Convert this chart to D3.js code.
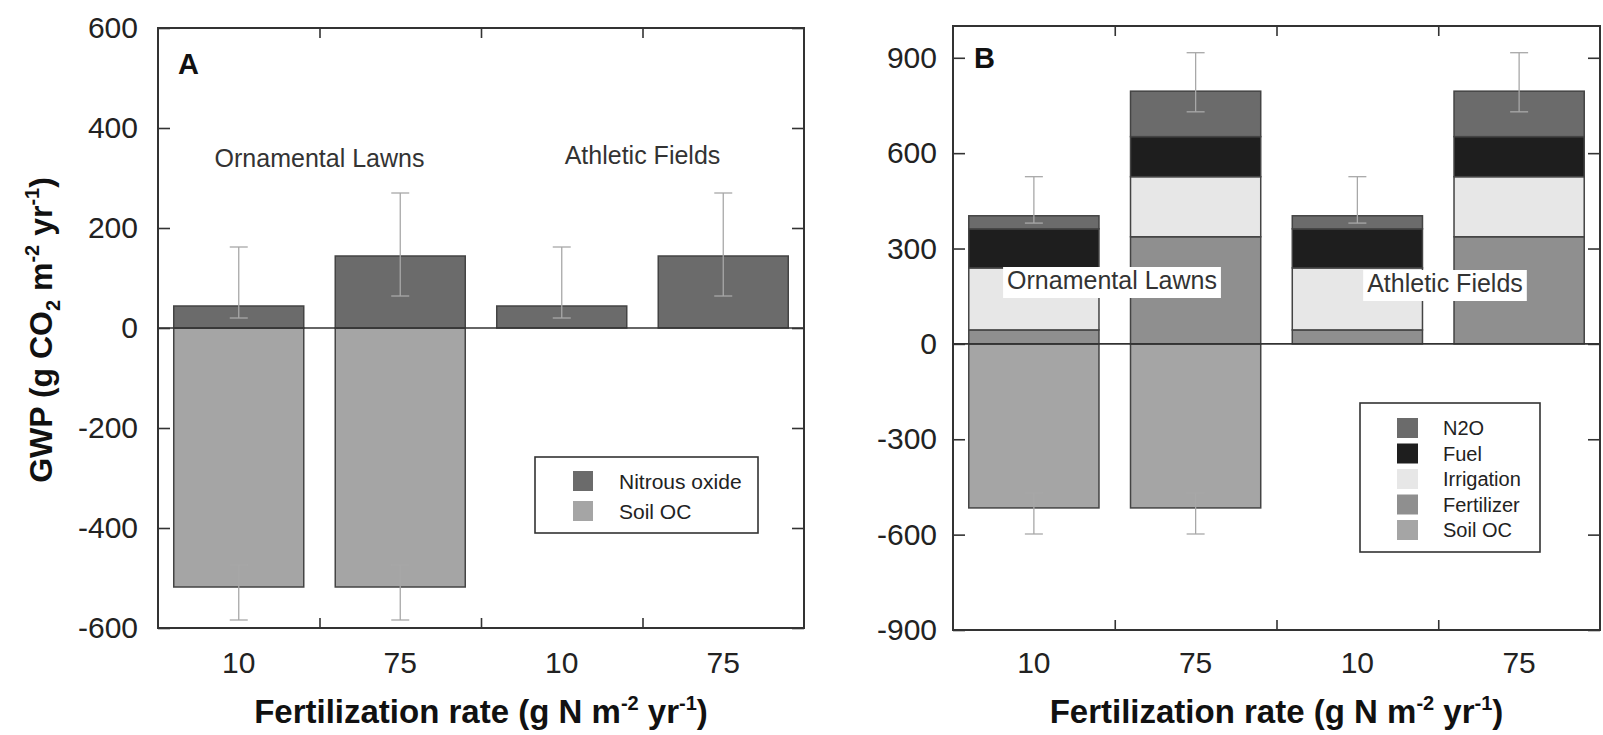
<!DOCTYPE html>
<html><head><meta charset="utf-8">
<script src="https://cdn.jsdelivr.net/npm/d3@7"></script>
<style>
body{margin:0;background:#fff;}
svg{display:block;font-family:"Liberation Sans",Arial,sans-serif;}
</style></head><body>
<svg id="chart" width="1603" height="735"></svg>
<script>
// ---------- DATA ----------
const categories = ["OL-10","OL-75","AF-10","AF-75"];
const rateLabels = ["10","75","10","75"];
const groupLabels = ["Ornamental Lawns","Athletic Fields"];

// Panel A
const n2oA = [44,144,44,144];
const n2oALow = [20,64,20,64];
const n2oAHigh = [162,270,162,270];
const soilA = [-518,-518,null,null];
const soilALow = [-584,-584,null,null];
const soilAHigh = [-474,-474,null,null];
const yTicksA = [-600,-400,-200,0,200,400,600];
const legendA = ["Nitrous oxide","Soil OC"];

// Panel B (stack from 0 upward: Fertilizer, Irrigation, Fuel, N2O)
const fertilizerB = [44,337,44,337];
const irrigationB = [195,189,195,189];
const fuelB = [123,126,123,126];
const n2oB = [41,143,41,143];
const totalBLow = [380,730,380,730];
const totalBHigh = [526,916,526,916];
const soilB = [-516,-516,null,null];
const soilBLow = [-598,-598,null,null];
const soilBHigh = [-469,-469,null,null];
const yTicksB = [-900,-600,-300,0,300,600,900];
const legendB = ["N2O","Fuel","Irrigation","Fertilizer","Soil OC"];

// ---------- STYLE ----------
const col = {n2o:"#6b6b6b", fuel:"#1e1e1e", irrigation:"#e7e7e7", fertilizer:"#8f8f8f", soil:"#a5a5a5"};
const barStroke = "#444";
const axisCol = "#333";
const textCol = "#222";

const svg = d3.select("#chart");

function panel(opts){
  const {x0,x1,y0,y1,domain} = opts;
  const g = svg.append("g");
  const x = d3.scaleBand().domain(categories).range([x0,x1]).paddingInner(0.195).paddingOuter(0.0975);
  const xl = d3.scaleLinear().domain([0,4]).range([x0,x1]);
  const y = d3.scaleLinear().domain(domain).range([y1,y0]);
  return {g,x,xl,y,...opts};
}

function drawBars(P, segs){
  segs.forEach(s=>{
    P.g.append("g").selectAll("rect").data(categories.map((c,i)=>({c,lo:s.lo[i],hi:s.hi[i]})).filter(d=>d.lo!=null&&d.hi!=null))
      .join("rect")
      .attr("x",d=>P.x(d.c)).attr("width",P.x.bandwidth())
      .attr("y",d=>P.y(Math.max(d.lo,d.hi))).attr("height",d=>Math.abs(P.y(d.lo)-P.y(d.hi)))
      .attr("fill",s.color).attr("stroke",barStroke).attr("stroke-width",1.5);
  });
}

function drawErr(P, low, high){
  const data = categories.map((c,i)=>({c,lo:low[i],hi:high[i]})).filter(d=>d.lo!=null);
  const eg = P.g.append("g").attr("stroke","#a8a8a8").attr("stroke-width",1.3);
  eg.selectAll("line.v").data(data).join("line")
    .attr("x1",d=>P.x(d.c)+P.x.bandwidth()/2).attr("x2",d=>P.x(d.c)+P.x.bandwidth()/2)
    .attr("y1",d=>P.y(d.lo)).attr("y2",d=>P.y(d.hi));
  ["lo","hi"].forEach(k=>{
    eg.selectAll("line."+k).data(data).join("line")
      .attr("x1",d=>P.x(d.c)+P.x.bandwidth()/2-9).attr("x2",d=>P.x(d.c)+P.x.bandwidth()/2+9)
      .attr("y1",d=>P.y(d[k])).attr("y2",d=>P.y(d[k]));
  });
}

function drawZero(P){
  P.g.append("line").attr("x1",P.x0).attr("x2",P.x1).attr("y1",P.y(0)).attr("y2",P.y(0))
    .attr("stroke",axisCol).attr("stroke-width",1.6);
}

function drawAxes(P){
  const g = P.g;
  const styleAx = sel=>{sel.select(".domain").remove(); sel.selectAll("line").attr("stroke",axisCol).attr("stroke-width",1.6);
    sel.selectAll("text").attr("fill",textCol).style("font-size","30px").style("font-family",'"Liberation Sans",Arial,sans-serif');};
  g.append("g").attr("transform",`translate(${P.x0},0)`)
    .call(d3.axisLeft(P.y).tickValues(P.ticks).tickSize(-12).tickPadding(P.labelPad).tickFormat(d=>String(d))).call(styleAx);
  g.append("g").attr("transform",`translate(${P.x1},0)`)
    .call(d3.axisRight(P.y).tickValues(P.ticks).tickSize(-12).tickFormat("")).call(styleAx);
  g.append("g").attr("transform",`translate(0,${P.y1})`)
    .call(d3.axisBottom(P.xl).tickValues([1,2,3]).tickSize(-10).tickFormat("")).call(styleAx);
  g.append("g").attr("transform",`translate(0,${P.y0})`)
    .call(d3.axisTop(P.xl).tickValues([1,2,3]).tickSize(-10).tickFormat("")).call(styleAx);
  g.append("g").attr("transform",`translate(0,${P.y1})`)
    .call(d3.axisBottom(P.x).tickSize(0).tickPadding(P.xLabPad).tickFormat((d,i)=>rateLabels[i])).call(styleAx);
  g.append("rect").attr("x",P.x0).attr("y",P.y0).attr("width",P.x1-P.x0).attr("height",P.y1-P.y0)
    .attr("fill","none").attr("stroke",axisCol).attr("stroke-width",2);
  const t = g.append("text").attr("x",(P.x0+P.x1)/2).attr("y",723).attr("text-anchor","middle")
    .attr("fill","#111").style("font-size","33px").style("font-weight","bold");
  t.append("tspan").text("Fertilization rate (g N m");
  t.append("tspan").attr("dy",-13).style("font-size","20px").text("-2");
  t.append("tspan").attr("dy",13).text(" yr");
  t.append("tspan").attr("dy",-13).style("font-size","20px").text("-1");
  t.append("tspan").attr("dy",13).text(")");
}

function groupLabel(P, text, cx, baseline, size, box){
  const t = P.g.append("text").attr("x",cx).attr("y",baseline).attr("text-anchor","middle")
    .attr("fill","#333").style("font-size",size+"px").text(text);
  if(box){
    const bb = t.node().getBBox();
    P.g.insert("rect",()=>t.node()).attr("x",bb.x-4).attr("y",bb.y+1).attr("width",bb.width+8).attr("height",bb.height+3).attr("fill","#fff");
  }
}

function legend(P, items, colors, bx, by, bw, bh, sx, sw, sh, rowY, tx, fs){
  const g = P.g.append("g");
  g.append("rect").attr("x",bx).attr("y",by).attr("width",bw).attr("height",bh).attr("fill","#fff").attr("stroke",axisCol).attr("stroke-width",1.6);
  items.forEach((it,i)=>{
    g.append("rect").attr("x",sx).attr("y",rowY[i]-sh/2).attr("width",sw).attr("height",sh).attr("fill",colors[i]);
    g.append("text").attr("x",tx).attr("y",rowY[i]+fs*0.36).attr("fill","#222").style("font-size",fs+"px").text(it);
  });
}

// ---------- PANEL A ----------
const A = panel({x0:158,x1:804,y0:28,y1:628,domain:[-600,600],ticks:yTicksA,labelPad:20,xLabPad:24});
drawBars(A,[
  {lo:soilA.map(v=>v==null?null:0), hi:soilA, color:col.soil},
  {lo:n2oA.map(()=>0), hi:n2oA, color:col.n2o}
]);
drawZero(A);
drawErr(A,n2oALow,n2oAHigh);
drawErr(A,soilALow,soilAHigh);
groupLabel(A,groupLabels[0],(A.xl(0)+A.xl(2))/2,167,25,false);
groupLabel(A,groupLabels[1],(A.xl(2)+A.xl(4))/2,164,25,false);
legend(A,legendA,[col.n2o,col.soil],535,457,223,76,573,20,20,[481,511],619,21);
drawAxes(A);
A.g.append("text").attr("x",178).attr("y",74).attr("fill","#111").style("font-size","29px").style("font-weight","bold").text("A");
const yt = svg.append("text").attr("transform","translate(52,330) rotate(-90)").attr("text-anchor","middle")
  .attr("fill","#111").style("font-size","32px").style("font-weight","bold");
yt.append("tspan").text("GWP (g CO");
yt.append("tspan").attr("dy",8).style("font-size","20px").text("2");
yt.append("tspan").attr("dy",-8).text(" m");
yt.append("tspan").attr("dy",-13).style("font-size","20px").text("-2");
yt.append("tspan").attr("dy",13).text(" yr");
yt.append("tspan").attr("dy",-13).style("font-size","20px").text("-1");
yt.append("tspan").attr("dy",13).text(")");

// ---------- PANEL B ----------
const B = panel({x0:953,x1:1600,y0:26,y1:630,domain:[-900,1000],ticks:yTicksB,labelPad:16,xLabPad:22});
const cum1 = fertilizerB;
const cum2 = fertilizerB.map((v,i)=>v+irrigationB[i]);
const cum3 = cum2.map((v,i)=>v+fuelB[i]);
const cum4 = cum3.map((v,i)=>v+n2oB[i]);
drawBars(B,[
  {lo:soilB.map(v=>v==null?null:0), hi:soilB, color:col.soil},
  {lo:fertilizerB.map(()=>0), hi:cum1, color:col.fertilizer},
  {lo:cum1, hi:cum2, color:col.irrigation},
  {lo:cum2, hi:cum3, color:col.fuel},
  {lo:cum3, hi:cum4, color:col.n2o}
]);
drawZero(B);
drawErr(B,totalBLow,totalBHigh);
drawErr(B,soilBLow,soilBHigh);
groupLabel(B,groupLabels[0],1112,289,25,true);
groupLabel(B,groupLabels[1],1445,292,25,true);
legend(B,legendB,[col.n2o,col.fuel,col.irrigation,col.fertilizer,col.soil],1360,403,180,149,1397,21,20,[428,453.5,479,504.5,530],1443,20);
drawAxes(B);
B.g.append("text").attr("x",974).attr("y",68).attr("fill","#111").style("font-size","29px").style("font-weight","bold").text("B");
</script>
</body></html>
